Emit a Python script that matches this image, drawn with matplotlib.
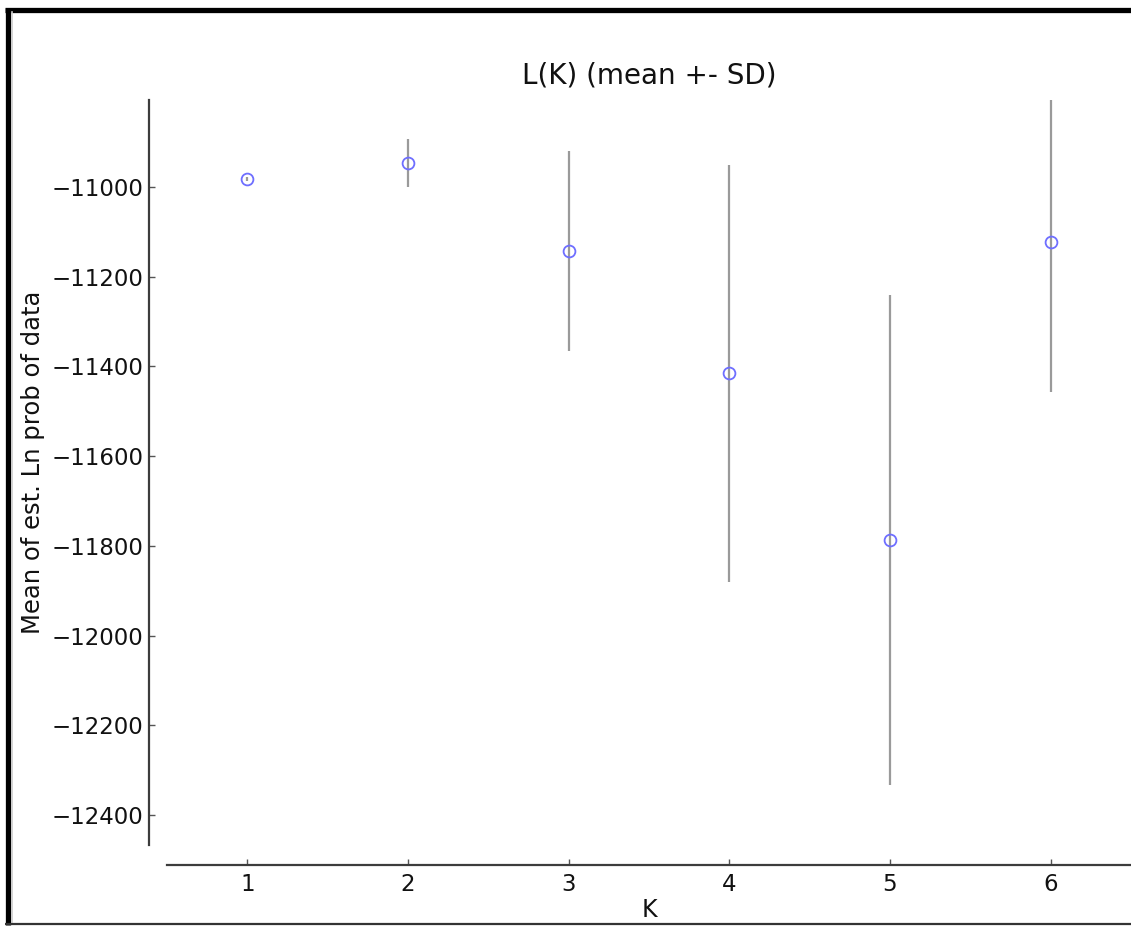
import matplotlib
matplotlib.use("Agg")
import matplotlib.pyplot as plt
from matplotlib.lines import Line2D

# values
k_values = [1, 2, 3, 4, 5, 6]
mean_lnp = [-10982, -10946, -11143, -11415, -11787, -11123]
sd_lnp = [4, 53, 223, 465, 546, 333]
x_ticks = [1, 2, 3, 4, 5, 6]
y_ticks = [-11000, -11200, -11400, -11600, -11800, -12000, -12200, -12400]

W, H = 1131, 926
fig = plt.figure(figsize=(W / 100, H / 100), dpi=100)
fig.patch.set_facecolor("white")

ax = fig.add_axes([167 / W, 1 - 845 / H, (W - 167) / W, (845 - 100) / H])

ax.errorbar(k_values, mean_lnp, yerr=sd_lnp, fmt="none",
            ecolor="#9a9a9a", elinewidth=1.6, capsize=0, zorder=2)
ax.plot(k_values, mean_lnp, linestyle="none", marker="o", markersize=8.5,
        markerfacecolor="none", markeredgecolor="#6e6eff",
        markeredgewidth=1.3, zorder=3)

ax.set_xlim(0.5, 6.5)
ax.set_ylim(-12467, -10806)
ax.set_xticks(x_ticks)
ax.set_yticks(y_ticks)
ax.set_yticklabels([f"\u2212{abs(v)}" for v in y_ticks])

for side in ("top", "right"):
    ax.spines[side].set_visible(False)
ax.spines["left"].set_position(("outward", 13))
ax.spines["bottom"].set_position(("outward", 14.5))
for side in ("left", "bottom"):
    ax.spines[side].set_color("#3c3c3c")
    ax.spines[side].set_linewidth(1.6)

ax.tick_params(direction="in", length=4, width=1, color="#555555",
               labelsize=16.5, labelcolor="#111111", pad=4)
ax.tick_params(axis="y", pad=4)
ax.tick_params(axis="x", pad=6)

ax.set_title("L(K) (mean +- SD)", fontsize=20, pad=12, color="#111111")
ax.set_xlabel("K", fontsize=17, color="#111111", labelpad=1)
ax.set_ylabel("Mean of est. Ln prob of data", fontsize=17.5, color="#111111")
ax.yaxis.set_label_coords((45 - 167) / (W - 167), 0.514)

# black picture frame around the screenshot
def px_line(xs, ys, **kw):
    fig.add_artist(Line2D([x / W for x in xs], [1 - y / H for y in ys],
                          transform=fig.transFigure, **kw))

px_line([5, W], [9.5, 9.5], color="black", linewidth=3.8, solid_capstyle="butt")
px_line([7.5, 7.5], [7.5, 925], color="black", linewidth=3.8, solid_capstyle="butt")
px_line([11.5, 11.5], [12, 922], color="#cccccc", linewidth=1.2)
px_line([5, W], [924, 924], color="#333333", linewidth=1.6, solid_capstyle="butt")

fig.savefig("out.png", dpi=100, facecolor="white")
